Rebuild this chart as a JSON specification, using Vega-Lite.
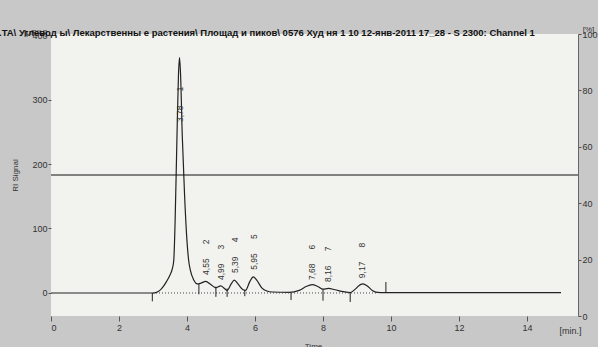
{
  "$schema": "https://vega.github.io/schema/vega-lite/v6.json",
  "width": 527,
  "height": 282,
  "autosize": {"type": "none"},
  "padding": {"left": 51, "top": 34, "right": 20, "bottom": 31},
  "background": "#c8c8c8",
  "config": {
    "view": {"fill": "#f2f2ee", "stroke": null},
    "font": "Liberation Sans",
    "axis": {"labelFont": "Liberation Sans", "titleFont": "Liberation Sans", "labelColor": "#333", "titleColor": "#333", "grid": false, "labelFontSize": 9, "titleFontSize": 9, "titleFontWeight": "normal", "tickColor": "#555"}
  },
  "title": {
    "text": ".TA\\ Углевод ы\\ Лекарственны е растения\\ Площад и пиков\\ 0576 Худ ня 1 10 12-янв-2011 17_28 - S 2300: Channel 1",
    "anchor": "start",
    "frame": "group",
    "orient": "top",
    "baseline": "alphabetic",
    "offset": -20,
    "dx": -52,
    "font": "Liberation Sans",
    "fontSize": 9.5,
    "fontWeight": "bold",
    "color": "#111"
  },
  "layer": [
    {
      "layer": [
        {
          "data": {"values": [
            {"t": 0, "v": 0}, {"t": 3.0, "v": 0}, {"t": 3.1, "v": 1}, {"t": 3.2, "v": 4}, {"t": 3.3, "v": 10},
            {"t": 3.4, "v": 18}, {"t": 3.5, "v": 28}, {"t": 3.56, "v": 36}, {"t": 3.61, "v": 50}, {"t": 3.65, "v": 110},
            {"t": 3.7, "v": 230}, {"t": 3.75, "v": 340}, {"t": 3.78, "v": 365}, {"t": 3.81, "v": 340}, {"t": 3.86, "v": 245},
            {"t": 3.93, "v": 150}, {"t": 4.0, "v": 80}, {"t": 4.05, "v": 50}, {"t": 4.1, "v": 35}, {"t": 4.2, "v": 20},
            {"t": 4.3, "v": 14}, {"t": 4.4, "v": 15}, {"t": 4.55, "v": 18}, {"t": 4.7, "v": 13}, {"t": 4.85, "v": 8},
            {"t": 4.99, "v": 11}, {"t": 5.1, "v": 7}, {"t": 5.18, "v": 4}, {"t": 5.3, "v": 14}, {"t": 5.39, "v": 20},
            {"t": 5.5, "v": 14}, {"t": 5.65, "v": 5}, {"t": 5.72, "v": 4}, {"t": 5.85, "v": 18}, {"t": 5.95, "v": 25},
            {"t": 6.05, "v": 20}, {"t": 6.2, "v": 8}, {"t": 6.35, "v": 3}, {"t": 6.5, "v": 1.5}, {"t": 7.0, "v": 1},
            {"t": 7.3, "v": 4}, {"t": 7.5, "v": 10}, {"t": 7.68, "v": 13}, {"t": 7.85, "v": 10}, {"t": 8.0, "v": 6},
            {"t": 8.16, "v": 7}, {"t": 8.35, "v": 5}, {"t": 8.6, "v": 2}, {"t": 8.8, "v": 0.5}, {"t": 8.95, "v": 6},
            {"t": 9.1, "v": 13}, {"t": 9.17, "v": 14}, {"t": 9.3, "v": 11}, {"t": 9.45, "v": 4}, {"t": 9.6, "v": 1},
            {"t": 9.8, "v": 0.5}, {"t": 12, "v": 0.5}, {"t": 15, "v": 0.5}
          ]},
          "mark": {"type": "line", "color": "#222", "strokeWidth": 1.2, "interpolate": "monotone"},
          "encoding": {
            "x": {"field": "t", "type": "quantitative", "scale": {"domain": [0, 15.5], "nice": false},
              "axis": {"orient": "bottom", "values": [0, 2, 4, 6, 8, 10, 12, 14], "tickSize": 5, "labelPadding": 2, "domain": false,
                "title": "Time", "titleX": 262, "titleY": 26, "titleBaseline": "top", "titleAlign": "center", "titleFontSize": 8}},
            "y": {"field": "v", "type": "quantitative", "scale": {"domain": [-35.7, 401.6], "nice": false, "zero": false},
              "axis": {"orient": "left", "values": [0, 100, 200, 300, 400], "tickSize": 3, "labelPadding": 1, "domain": false,
                "title": "RI Signal", "titleX": -36, "titleY": 141, "titleAngle": -90, "titleAlign": "center", "titleBaseline": "middle", "titleFontSize": 8}}
          }
        },
        {
          "data": {"values": [{"t": 3.0, "t2": 9.6, "v": 0}]},
          "mark": {"type": "rule", "color": "#444", "strokeDash": [1, 2], "strokeWidth": 1},
          "encoding": {
            "x": {"field": "t", "type": "quantitative"},
            "x2": {"field": "t2"},
            "y": {"field": "v", "type": "quantitative"}
          }
        },
        {
          "data": {"values": [
            {"t": 2.98, "v": 0, "v2": -13}, {"t": 4.35, "v": 14, "v2": -2}, {"t": 4.85, "v": 10, "v2": -6},
            {"t": 5.18, "v": 7, "v2": -6}, {"t": 5.7, "v": 5, "v2": -5}, {"t": 7.06, "v": 0, "v2": -11},
            {"t": 8.0, "v": 6, "v2": -12}, {"t": 8.8, "v": 0, "v2": -14}, {"t": 9.85, "v": 17, "v2": 0}
          ]},
          "mark": {"type": "rule", "color": "#222", "strokeWidth": 1},
          "encoding": {
            "x": {"field": "t", "type": "quantitative"},
            "y": {"field": "v", "type": "quantitative"},
            "y2": {"field": "v2"}
          }
        },
        {
          "data": {"name": "peaks", "values": [
            {"t": 3.78, "v": 265, "lab": "3,78", "n": "1"},
            {"t": 4.56, "v": 28, "lab": "4,55", "n": "2"},
            {"t": 5.0, "v": 20, "lab": "4,99", "n": "3"},
            {"t": 5.4, "v": 31, "lab": "5,39", "n": "4"},
            {"t": 5.96, "v": 36, "lab": "5,95", "n": "5"},
            {"t": 7.68, "v": 20, "lab": "7,68", "n": "6"},
            {"t": 8.15, "v": 17, "lab": "8,16", "n": "7"},
            {"t": 9.16, "v": 23, "lab": "9,17", "n": "8"}
          ]},
          "layer": [
            {
              "mark": {"type": "text", "angle": 270, "align": "left", "baseline": "middle", "fontSize": 8.5, "color": "#333", "font": "Liberation Sans"},
              "encoding": {
                "x": {"field": "t", "type": "quantitative"},
                "y": {"field": "v", "type": "quantitative"},
                "text": {"field": "lab"}
              }
            },
            {
              "mark": {"type": "text", "angle": 270, "align": "center", "baseline": "middle", "dx": 33, "fontSize": 8.5, "color": "#333", "font": "Liberation Sans"},
              "encoding": {
                "x": {"field": "t", "type": "quantitative"},
                "y": {"field": "v", "type": "quantitative"},
                "text": {"field": "n"}
              }
            }
          ]
        }
      ]
    },
    {
      "data": {"values": [{"p": 50}]},
      "mark": {"type": "rule", "color": "#111", "strokeWidth": 1},
      "encoding": {
        "y": {"field": "p", "type": "quantitative", "scale": {"domain": [0, 100], "nice": false},
          "axis": {"orient": "right", "values": [0, 20, 40, 60, 80, 100], "tickSize": 3, "labelPadding": 1, "domain": true, "domainColor": "#666",
            "title": "[%]", "titleAngle": 0, "titleX": 10, "titleY": -5, "titleAlign": "center", "titleBaseline": "middle", "titleFontSize": 8}}
      }
    },
    {
      "data": {"values": [{"a": 0, "b": 0}]},
      "mark": {"type": "point", "opacity": 0},
      "encoding": {
        "x": {"field": "a", "type": "quantitative",
          "axis": {"orient": "bottom", "labels": false, "ticks": false, "domain": false, "title": "[min.]", "titleX": 519, "titleY": 14, "titleAlign": "center", "titleBaseline": "middle", "titleFontSize": 9}},
        "y": {"field": "b", "type": "quantitative",
          "axis": {"orient": "left", "labels": false, "ticks": false, "domain": false, "title": "[µRIU]", "titleAngle": 0, "titleX": -16, "titleY": -2, "titleAlign": "center", "titleBaseline": "middle", "titleFontSize": 8}}
      }
    }
  ],
  "resolve": {"scale": {"x": "independent", "y": "independent"}}
}
